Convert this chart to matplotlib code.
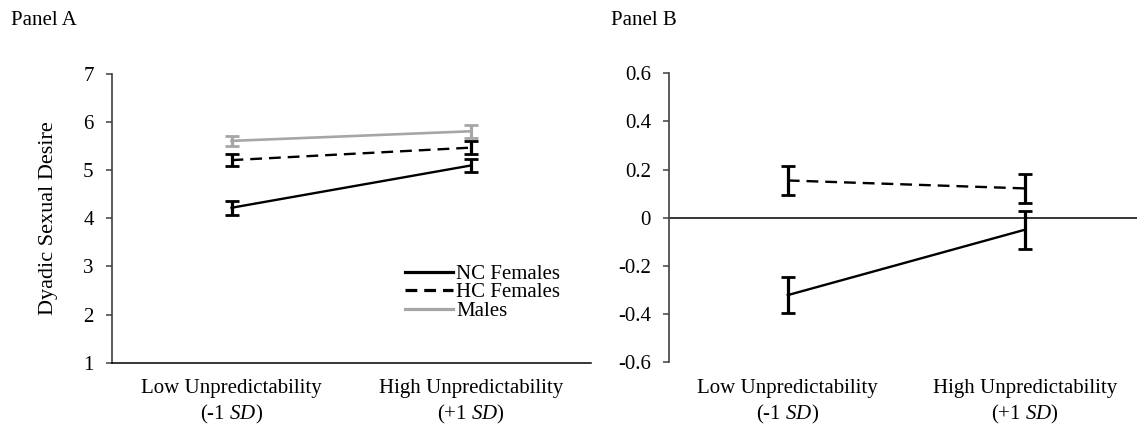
import numpy as np
import matplotlib
matplotlib.use("Agg")
import matplotlib.pyplot as plt

plt.rcParams['font.family'] = ['Liberation Serif', 'DejaVu Serif']
plt.rcParams['mathtext.fontset'] = 'custom'
plt.rcParams['mathtext.rm'] = 'Liberation Serif'
plt.rcParams['mathtext.it'] = 'Liberation Serif:italic'
plt.rcParams['lines.scale_dashes'] = False

# Дані
categories = ["Low Unpredictability\n(-1 $\\mathit{SD}$)",
              "High Unpredictability\n(+1 $\\mathit{SD}$)"]
series_names = ["NC Females", "HC Females", "Males"]

# Panel A
nc_a = [4.22, 5.10]
nc_a_err = [0.14, 0.14]
hc_a = [5.21, 5.47]
hc_a_err = [0.125, 0.14]
males_a = [5.61, 5.81]
males_a_err = [0.10, 0.13]

# Panel B
nc_b = [-0.321, -0.049]
nc_b_err = [0.074, 0.079]
hc_b = [0.155, 0.122]
hc_b_err = [0.06, 0.059]

yticks_a = [1, 2, 3, 4, 5, 6, 7]
yticks_b = [-0.6, -0.4, -0.2, 0, 0.2, 0.4, 0.6]
yticklabels_b = ["-0.6", "-0.4", "-0.2", "0", "0.2", "0.4", "0.6"]

W, H = 1137, 425
FS = 15
GRAY = '#a6a6a6'
AXC = '#404040'

fig = plt.figure(figsize=(W / 100, H / 100), dpi=100)
axA = fig.add_axes([111.7 / W, 1 - 362.7 / H, (591 - 111.7) / W, (362.7 - 74) / H])
axB = fig.add_axes([669 / W, 1 - 362.3 / H, (W - 669) / W, (362.3 - 73.3) / H])

x = np.arange(len(categories))
eb_style = dict(elinewidth=2.3, capsize=5, capthick=2.0)

# Panel A
l_nc = axA.errorbar(x, nc_a, yerr=nc_a_err, color='black', lw=1.7, ecolor='black', **eb_style)[0]
l_hc = axA.errorbar(x, hc_a, yerr=hc_a_err, color='black', lw=1.7, ecolor='black',
                    dashes=(8.5, 5), **eb_style)[0]
l_m = axA.errorbar(x, males_a, yerr=males_a_err, color=GRAY, lw=1.9, ecolor=GRAY, **eb_style)[0]

axA.set_xlim(-0.5, 1.5)
axA.set_ylim(1, 7)
axA.set_yticks(yticks_a)
axA.set_xticks(x)
axA.set_xticklabels(categories, linespacing=1.3)
axA.set_ylabel("Dyadic Sexual Desire", fontsize=16)
axA.yaxis.set_label_coords(-0.112, 0.5)

leg = axA.legend([l_nc, l_hc, l_m], series_names, loc='upper left',
                 bbox_to_anchor=(0.612, 0.34), frameon=False, fontsize=FS,
                 handlelength=2.3, handletextpad=0.15, labelspacing=-0.06,
                 borderpad=0, borderaxespad=0)
for h in leg.legend_handles:
    h.set_linewidth(2.3)

# Panel B
axB.axhline(0, color='black', lw=1.1)
axB.errorbar(x, nc_b, yerr=nc_b_err, color='black', lw=1.7, ecolor='black', **eb_style)
axB.errorbar(x, hc_b, yerr=hc_b_err, color='black', lw=1.7, ecolor='black',
             dashes=(8.5, 5), **eb_style)

axB.set_xlim(-0.5, 1.47)
axB.set_ylim(-0.6, 0.6)
axB.set_yticks(yticks_b)
axB.set_yticklabels(yticklabels_b)
axB.set_xticks(x)
axB.set_xticklabels(categories, linespacing=1.3)
axB.spines['bottom'].set_visible(False)

for ax in (axA, axB):
    ax.spines['top'].set_visible(False)
    ax.spines['right'].set_visible(False)
    ax.spines['left'].set_color(AXC)
    ax.spines['left'].set_linewidth(1.2)
    ax.spines['bottom'].set_color('black')
    ax.spines['bottom'].set_linewidth(1.1)
    ax.tick_params(axis='y', direction='out', length=4.5, width=1.1, color=AXC,
                   pad=8.5, labelsize=FS)
    ax.tick_params(axis='x', length=0, pad=12, labelsize=FS)

fig.text(11 / W, 1 - 25 / H, "Panel A", fontsize=FS, va='baseline', ha='left')
fig.text(611 / W, 1 - 25 / H, "Panel B", fontsize=FS, va='baseline', ha='left')

fig.savefig("out.png", dpi=100)
